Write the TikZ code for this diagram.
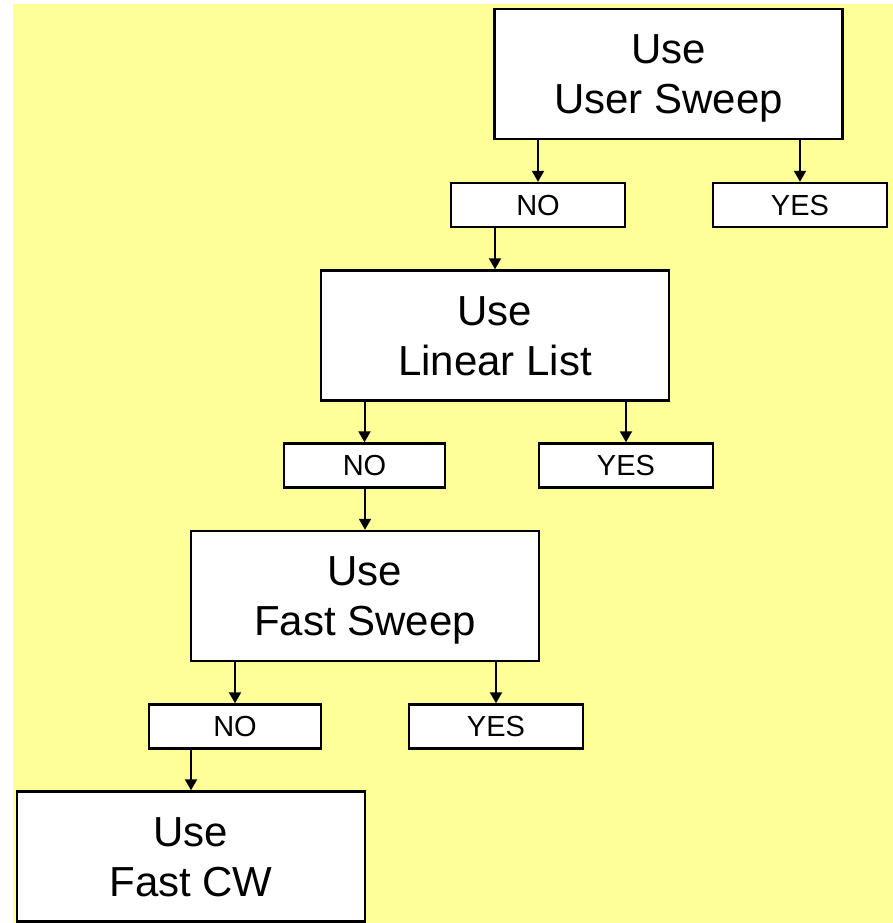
\documentclass[tikz,border=0pt]{standalone}
\usepackage{fontspec}
\setmainfont{Liberation Sans}
\usetikzlibrary{arrows.meta}
\definecolor{bgyellow}{HTML}{FFFF99}
\tikzset{
  bigbox/.style={draw=black, fill=white, line width=2.4pt, inner sep=0pt,
    minimum width=348pt, minimum height=130pt, align=center,
    font=\fontsize{42}{50}\selectfont, text height=80pt, text depth=0pt},
  smallbox/.style={draw=black, fill=white, line width=2.4pt, inner sep=0pt,
    minimum width=174pt, minimum height=44pt, align=center,
    font=\fontsize{29}{34}\selectfont, text height=21pt, text depth=0pt},
  arr/.style={line width=2pt, -{Triangle[width=12pt,length=11pt]}}
}
\begin{document}
\begin{tikzpicture}[x=1pt,y=1pt]
\useasboundingbox (0,0) rectangle (893,923);
\fill[bgyellow] (13,0) rectangle (893,919);
\node[bigbox] (b1) at (668.5,849) {Use\\User Sweep};
\node[smallbox] (n1) at (538,718) {NO};
\node[smallbox] (y1) at (800,718) {YES};
\node[bigbox] (b2) at (495,587.5) {Use\\Linear List};
\node[smallbox, minimum width=161pt] (n2) at (364.5,457.5) {NO};
\node[smallbox] (y2) at (626,457.5) {YES};
\node[bigbox] (b3) at (365,327) {Use\\Fast Sweep};
\node[smallbox, minimum width=172pt] (n3) at (235,196.5) {NO};
\node[smallbox] (y3) at (496,196.5) {YES};
\node[bigbox] (b4) at (191,66.5) {Use\\Fast CW};
\draw[arr] (b1.south -| n1) -- (n1.north);
\draw[arr] (b1.south -| y1) -- (y1.north);
\draw[arr] (n1.south -| b2) -- (b2.north);
\draw[arr] (b2.south -| n2) -- (n2.north);
\draw[arr] (b2.south -| y2) -- (y2.north);
\draw[arr] (n2.south -| b3) -- (b3.north);
\draw[arr] (b3.south -| n3) -- (n3.north);
\draw[arr] (b3.south -| y3) -- (y3.north);
\draw[arr] (n3.south -| b4) -- (b4.north);
\end{tikzpicture}
\end{document}
